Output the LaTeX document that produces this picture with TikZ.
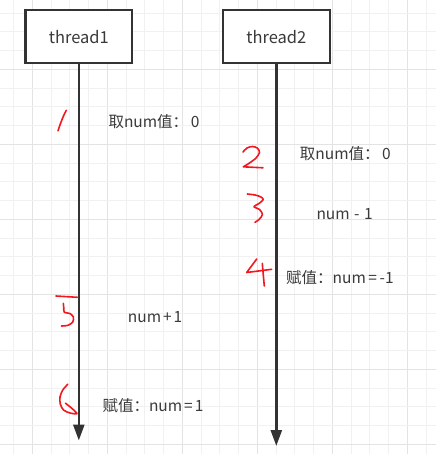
\documentclass[tikz,border=0pt]{standalone}
\usepackage{fontspec}
\newfontfamily\cjk{Noto Sans CJK SC}
\usetikzlibrary{arrows.meta}
\definecolor{gridminor}{HTML}{F1F1F1}
\definecolor{gridmajor}{HTML}{E3E3E3}
\definecolor{ink}{HTML}{333333}
\definecolor{txt}{HTML}{3A3A3A}
\definecolor{redpen}{HTML}{F2161E}
\tikzset{
  threadbox/.style={draw=ink, line width=2.2pt, fill=white, minimum width=106.5pt, minimum height=53pt, inner sep=0pt, text=txt, font=\cjk\fontsize{16.5}{18}\selectfont},
  lifeline/.style={draw=ink, line width=2.6pt, -{Triangle[length=16pt,width=11pt]}},
  steplabel/.style={anchor=west, inner sep=0pt, text=txt, font=\cjk\fontsize{15.5}{17}\selectfont},
  pen/.style={draw=redpen, line width=1.6pt, line cap=round, line join=round},
}
\begin{document}
\begin{tikzpicture}[x=1pt, y=-1pt]
\useasboundingbox (0,0) rectangle (436,454);
\fill[white] (0,0) rectangle (436,454);
% grid
\foreach \k in {-1,...,21}{
  \pgfmathsetmacro{\xx}{32.3+18.75*\k}
  \pgfmathtruncatemacro{\m}{mod(\k+8,4)}
  \ifnum\m=0 \draw[gridmajor, line width=1pt] (\xx,0) -- (\xx,454);
  \else \draw[gridminor, line width=1pt] (\xx,0) -- (\xx,454); \fi
}
\foreach \k in {-3,...,20}{
  \pgfmathsetmacro{\yy}{69.3+18.75*\k}
  \pgfmathtruncatemacro{\m}{mod(\k+8,4)}
  \ifnum\m=0 \draw[gridmajor, line width=1pt] (0,\yy) -- (436,\yy);
  \else \draw[gridminor, line width=1pt] (0,\yy) -- (436,\yy); \fi
}
% thread boxes
\node[threadbox] (t1) at (78.8,36.7) {thread1};
\node[threadbox, minimum width=107pt] (t2) at (276.3,36.7) {thread2};
% lifeline ends
\coordinate (e1) at (78.8,440.5);
\coordinate (e2) at (276.3,446);
\draw[lifeline] (t1.south) -- (e1);
\draw[lifeline] (t2.south) -- (e2);
% labels
\node[steplabel] (l1) at (108.3,121.8) {取num值：\,0};
\node[steplabel] (l2) at (299.7,153.5) {取num值：\,0};
\node[steplabel] (l3) at (316.3,214.5) {num\kern4.5pt-\kern4.5pt1};
\node[steplabel] (l4) at (286,277.5) {赋值：num\,=\,-1};
\node[steplabel] (l5) at (127.7,317) {num\kern2pt+\kern2pt1};
\node[steplabel] (l6) at (102.3,405.3) {赋值：num\kern2pt=\kern2pt1};
% handwritten numbers
\draw[pen] plot[smooth] coordinates {(66.3,110.3) (63.5,116) (60.5,123.5) (58,130.8)};
\draw[pen] plot[smooth] coordinates {(243,152) (247,148) (252.5,146.5) (257.5,148.2) (259.5,152.5) (256,158) (249.5,163) (243.3,166.8)} -- (263,167.8);
\draw[pen] plot[smooth] coordinates {(247.3,194) (255,195) (260.5,196.8) (263.3,199.5) (259,203.5) (254,206.7) (259.5,209.5) (262.5,214.5) (259,219.5) (255,222.3)};
\draw[pen] (256.7,259) -- (246.7,272.5) -- (271.7,269.3);
\draw[pen] plot[smooth] coordinates {(262.3,263.3) (263.2,274) (264.3,286)};
\draw[pen] (56,296) -- (77.3,297.3);
\draw[pen] plot[smooth] coordinates {(63.3,303.3) (63.8,308) (64.3,312.3) (70,313.5) (73.3,317) (72.8,322) (68,325.3) (61.5,326)};
\draw[pen] plot[smooth] coordinates {(67.7,384.3) (62.8,390) (60,397) (60.3,404) (63.5,410) (70,413) (77,413.6) (72,408.5) (65.5,403.2)};
\end{tikzpicture}
\end{document}
